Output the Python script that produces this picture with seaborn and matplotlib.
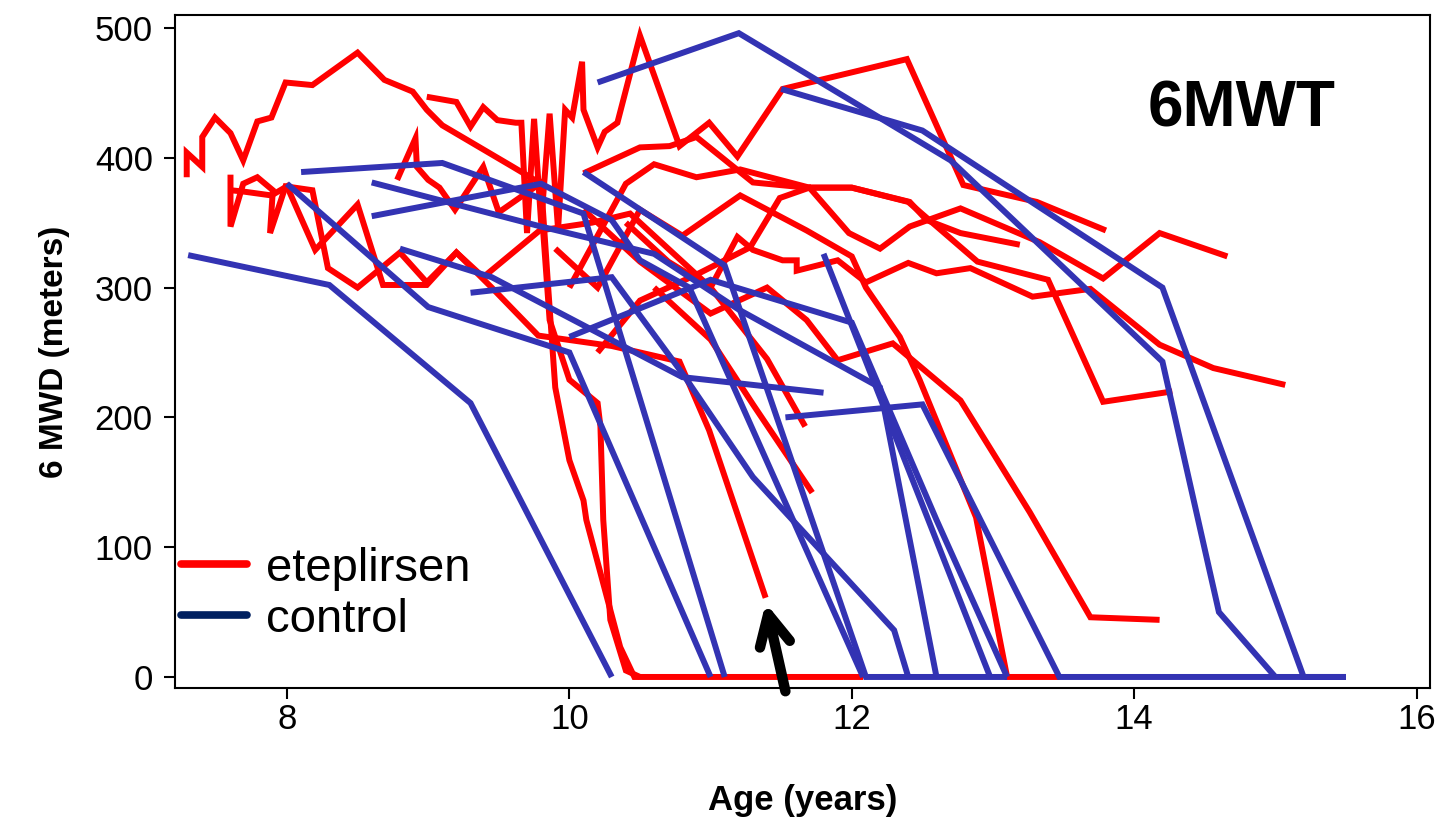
import numpy as np
import pandas as pd
import seaborn as sns
import matplotlib
matplotlib.use("Agg")
import matplotlib.pyplot as plt
from matplotlib.lines import Line2D

# ---------------- data (age in years, 6MWD in meters) ----------------
# eteplirsen patients
r1_x = [7.29, 7.29, 7.40, 7.40, 7.49, 7.60, 7.69, 7.79, 7.89, 7.99, 8.18, 8.50, 8.69, 8.89, 8.99, 9.10, 9.60, 9.80, 9.85, 9.90, 10.0, 10.1, 10.12, 10.36, 10.46, 12.08]
r1_y = [385, 404, 393, 416, 431, 419, 398, 428, 431, 458, 456, 481, 460, 451, 437, 425, 393, 380, 300, 223, 167, 136, 121, 23, 0, 0]
r2_x = [8.99, 9.2, 9.3, 9.39, 9.49, 9.62, 9.66, 9.70, 9.75, 9.80, 9.86, 9.92, 9.97, 10.02, 10.09, 10.1, 10.2, 10.25, 10.34, 10.5, 10.78, 10.99, 11.19, 11.51, 12.39, 12.79, 13.31, 13.8]
r2_y = [447, 443, 424, 439, 429, 427, 427, 342, 430, 350, 434, 345, 437, 431, 474, 437, 408, 420, 427, 494, 409, 427, 401, 453, 476, 379, 366, 344]
r3_x = [7.6, 7.6, 7.69, 7.79, 7.9, 7.88, 7.99, 8.18, 8.29, 8.5, 8.8, 8.99, 9.2, 9.39, 9.79, 10.16, 10.43, 10.6, 11.0, 11.4, 11.67]
r3_y = [387, 347, 380, 385, 375, 342, 378, 375, 315, 300, 327, 304, 327, 308, 344, 350, 357, 340, 300, 245, 193]
r4_x = [7.6, 7.69, 7.89, 8.0, 8.2, 8.5, 8.68, 8.99, 9.2, 9.45, 9.78, 10.3, 10.78, 10.99, 11.39]
r4_y = [375, 374, 371, 378, 329, 364, 302, 302, 327, 300, 263, 255, 243, 190, 61]
r5_x = [8.78, 8.91, 8.92, 9.0, 9.08, 9.19, 9.39, 9.5, 9.79, 9.86, 10.0, 10.2, 10.22, 10.24, 10.29, 10.4, 10.5]
r5_y = [383, 415, 393, 383, 377, 360, 393, 358, 380, 275, 229, 211, 193, 121, 44, 5, 0]
r6_x = [10.1, 10.5, 10.71, 10.9, 11.3, 11.68, 12.0, 12.4, 12.89, 13.39, 13.78, 14.27]
r6_y = [388, 408, 409, 416, 381, 377, 377, 366, 320, 306, 212, 220]
r7_x = [10.0, 10.4, 10.6, 10.9, 11.21, 11.7, 12.0, 12.41, 12.53, 12.77, 13.19]
r7_y = [300, 380, 395, 385, 391, 377, 377, 366, 352, 342, 333]
r8_x = [9.9, 10.2, 10.5, 10.8, 11.21, 11.68, 12.0, 12.1, 12.34, 12.48, 12.88, 13.1, 13.47]
r8_y = [330, 300, 360, 340, 371, 344, 324, 300, 262, 229, 123, 0, 0]
r9_x = [10.2, 10.5, 10.9, 11.28, 11.49, 11.7, 11.98, 12.2, 12.41, 12.77, 13.33, 13.78, 14.18, 14.66]
r9_y = [250, 290, 310, 331, 369, 377, 342, 330, 347, 361, 335, 307, 342, 324]
r10_x = [10.4, 10.7, 11.0, 11.19, 11.3, 11.51, 11.61, 11.61, 11.9, 12.1, 12.4, 12.6, 12.84, 13.28, 13.69, 14.18, 14.56, 15.07]
r10_y = [350, 320, 300, 339, 329, 321, 321, 313, 321, 304, 319, 311, 315, 293, 299, 256, 238, 225]
r11_x = [10.1, 10.5, 11.0, 11.4, 11.68, 11.9, 12.29, 12.77, 13.26, 13.69, 14.18]
r11_y = [360, 320, 280, 300, 275, 244, 257, 213, 127, 46, 44]
r12_x = [10.6, 11.0, 11.3, 11.72]
r12_y = [300, 260, 210, 142]

# external controls
b1_x = [7.3, 8.3, 9.3, 10.3];  b1_y = [325, 302, 211, 0]
b2_x = [8.0, 9.0, 10.0, 11.0]; b2_y = [380, 285, 250, 0]
b3_x = [8.1, 9.1, 10.1, 11.1]; b3_y = [389, 396, 357, 0]
b4_x = [8.6, 9.8, 10.3, 10.5, 10.85, 12.08]; b4_y = [355, 380, 352, 321, 300, 0]
b5_x = [8.6, 9.8, 10.6, 11.2, 12.2, 12.6];   b5_y = [381, 347, 326, 283, 223, 0]
b6_x = [8.8, 9.45, 10.8, 11.8];               b6_y = [330, 308, 231, 219]
b7_x = [9.3, 10.3, 10.8, 11.3, 12.3, 12.4];  b7_y = [296, 308, 234, 154, 36, 0]
b8_x = [11.8, 12.98];                         b8_y = [326, 0]
b9_x = [10.1, 11.1, 12.1, 13.1];             b9_y = [389, 317, 0, 0]
b10_x = [11.53, 12.5, 13.47, 15.5];          b10_y = [200, 210, 0, 0]
b11_x = [10.0, 11.0, 12.0, 12.6, 13.1];      b11_y = [262, 306, 273, 121, 0]
b12_x = [10.2, 11.2, 12.7, 14.2, 14.6, 15.0]; b12_y = [458, 496, 398, 243, 50, 0]
b13_x = [11.5, 12.5, 14.2, 15.2, 15.5];      b13_y = [453, 421, 300, 0, 0]

x_ticks = [8, 10, 12, 14, 16]
y_ticks = [0, 100, 200, 300, 400, 500]
group_labels = ["eteplirsen", "control"]

red_series = [(r1_x, r1_y), (r2_x, r2_y), (r3_x, r3_y), (r4_x, r4_y), (r5_x, r5_y), (r6_x, r6_y),
              (r7_x, r7_y), (r8_x, r8_y), (r9_x, r9_y), (r10_x, r10_y), (r11_x, r11_y), (r12_x, r12_y)]
blue_series = [(b1_x, b1_y), (b2_x, b2_y), (b3_x, b3_y), (b4_x, b4_y), (b5_x, b5_y), (b6_x, b6_y),
               (b7_x, b7_y), (b8_x, b8_y), (b9_x, b9_y), (b10_x, b10_y), (b11_x, b11_y), (b12_x, b12_y),
               (b13_x, b13_y)]

rows = []
for gname, series in ((group_labels[0], red_series), (group_labels[1], blue_series)):
    for i, (xs, ys) in enumerate(series):
        for k, (xv, yv) in enumerate(zip(xs, ys)):
            rows.append({"age": xv, "mwd": yv, "group": gname, "subject": f"{gname}{i}", "k": k})
df = pd.DataFrame(rows)

# ---------------- plot ----------------
sns.set_theme(style="white")
plt.rcParams["font.family"] = ["Liberation Sans", "DejaVu Sans"]
plt.rcParams["text.color"] = "black"
plt.rcParams["axes.labelcolor"] = "black"
plt.rcParams["xtick.color"] = "black"
plt.rcParams["ytick.color"] = "black"

RED = "#FF0000"
BLUE = "#3333B3"
NAVY = "#002060"

fig = plt.figure(figsize=(14.41, 8.22), dpi=100)
ax = fig.add_axes([175 / 1441, 1 - 688 / 822, (1430 - 175) / 1441, (688 - 15) / 822])

sns.lineplot(data=df, x="age", y="mwd", hue="group", hue_order=group_labels,
             units="subject", estimator=None, sort=False,
             palette={group_labels[0]: RED, group_labels[1]: BLUE},
             linewidth=4.3, legend=False, ax=ax)
for ln in ax.lines:
    ln.set_solid_joinstyle("miter")
    ln.set_solid_capstyle("butt")

ax.set_xlim(7.207, 16.095)
ax.set_ylim(-8.5, 510)
ax.set_xticks(x_ticks)
ax.set_yticks(y_ticks)
ax.tick_params(axis="both", which="major", direction="out", length=8, width=1.5,
               labelsize=25, labelcolor="black", color="black", bottom=True, left=True)
ax.tick_params(axis="x", pad=3)
ax.tick_params(axis="y", pad=8)
for s in ax.spines.values():
    s.set_color("black")
    s.set_linewidth(1.5)

ax.set_xlabel("Age (years)", fontsize=25, fontweight="bold", labelpad=34, color="black")
ax.set_ylabel("6 MWD (meters)", fontsize=24, fontweight="bold", labelpad=18, color="black")

ax.text(0.850, 0.859, "6MWT", transform=ax.transAxes, fontsize=46, fontweight="bold",
        ha="center", va="center", color="black")

handles = [Line2D([], [], color=RED, lw=5.5), Line2D([], [], color=NAVY, lw=5.5)]
leg = ax.legend(handles, group_labels, loc="lower left", bbox_to_anchor=(-0.003, 0.055),
                frameon=False, fontsize=34, handlelength=1.4, handletextpad=0.4,
                labelspacing=0.14, borderpad=0.2, borderaxespad=0.0)
for t in leg.get_texts():
    t.set_color("black")

ax.annotate("", xy=(11.39, 57), xytext=(11.53, -11), xycoords="data",
            arrowprops=dict(arrowstyle="->", color="black", lw=7.5, mutation_scale=55,
                            shrinkA=0, shrinkB=0, capstyle="round", joinstyle="round"),
            annotation_clip=False)

fig.savefig("out.png", dpi=100)
